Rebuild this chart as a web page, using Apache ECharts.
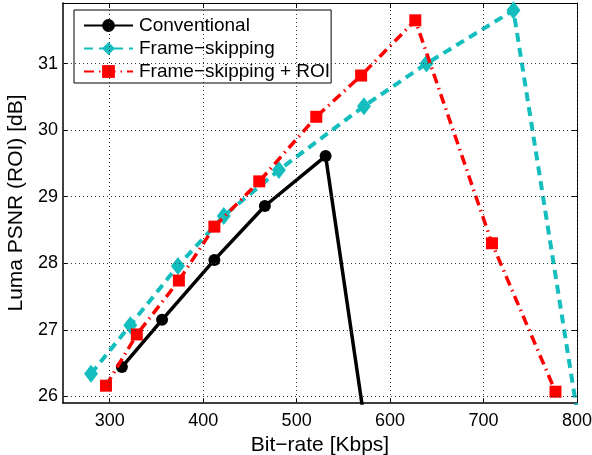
<!DOCTYPE html>
<html>
<head>
<meta charset="utf-8">
<script src="https://cdn.jsdelivr.net/npm/echarts@6/dist/echarts.min.js"></script>
<style>html,body{margin:0;padding:0;background:#fff}#c{width:592px;height:455px}</style>
</head>
<body>
<div id="c"></div>
<script>
var seriesNames = ['Conventional', 'Frame\u2212skipping', 'Frame\u2212skipping + ROI'];
var convX = [313, 356, 412, 466, 531, 576];
var convY = [26.44, 27.15, 28.05, 28.86, 29.61, 25.3];
var fsX = [280, 322, 373, 422, 481, 572, 639, 732, 806];
var fsY = [26.34, 27.07, 27.96, 28.71, 29.40, 30.36, 31.00, 31.80, 25.25];
var roiX = [296, 329, 374, 412, 460, 521, 569, 627, 709, 777];
var roiY = [26.16, 26.93, 27.74, 28.55, 29.23, 30.20, 30.82, 31.65, 28.30, 26.07];
var xTicks = [300, 400, 500, 600, 700, 800];
var yTicks = [26, 27, 28, 29, 30, 31];

function pairs(xs, ys) { return xs.map(function (x, i) { return [x, ys[i]]; }); }

var font = 'Liberation Sans, Arial, Helvetica, sans-serif';
var chart = echarts.init(document.getElementById('c'));
chart.setOption({
  animation: false,
  backgroundColor: '#fff',
  grid: { left: 63, right: 15, top: 3, bottom: 52, containLabel: false, outerBoundsMode: 'none' },
  legend: {
    left: 74, top: 10, orient: 'vertical',
    backgroundColor: '#fff', borderColor: '#000', borderWidth: 1,
    padding: [5, 1, 1, 9], itemGap: 2, itemWidth: 49, itemHeight: 16,
    textStyle: { fontFamily: font, fontSize: 19, lineHeight: 21, color: '#000', padding: [0, 0, 0, 1] },
    data: seriesNames
  },
  xAxis: [{
    type: 'value', min: 250, max: 800, interval: 50,
    name: 'Bit\u2212rate [Kbps]', nameLocation: 'middle', nameGap: 25,
    nameTextStyle: { fontFamily: font, fontSize: 21, color: '#000' },
    axisLine: { show: true, onZero: false, lineStyle: { color: '#000', width: 1.5 } },
    axisTick: { show: true, inside: true, length: 5, lineStyle: { color: '#000' },
      customValues: xTicks },
    axisLabel: { fontFamily: font, fontSize: 18, color: '#000', margin: 9,
      customValues: xTicks },
    splitLine: { show: false }
  }, {
    type: 'value', min: 250, max: 800, position: 'top',
    axisLine: { show: true, onZero: false, lineStyle: { color: '#000', width: 1 } },
    axisTick: { show: true, inside: true, length: 5, lineStyle: { color: '#000' }, customValues: xTicks },
    axisLabel: { show: false }, splitLine: { show: false }
  }],
  yAxis: [{
    type: 'value', min: 25.9, max: 31.91,
    name: 'Luma PSNR (ROI) [dB]', nameLocation: 'middle', nameGap: 35,
    nameTextStyle: { fontFamily: font, fontSize: 21, color: '#000' },
    axisLine: { show: true, onZero: false, lineStyle: { color: '#000', width: 1.5 } },
    axisTick: { show: true, inside: true, length: 5, lineStyle: { color: '#000' }, customValues: yTicks },
    axisLabel: { fontFamily: font, fontSize: 18, color: '#000', margin: 5, customValues: yTicks },
    splitLine: { show: false }
  }, {
    type: 'value', min: 25.9, max: 31.91, position: 'right',
    axisLine: { show: true, onZero: false, lineStyle: { color: '#000', width: 1 } },
    axisTick: { show: true, inside: true, length: 5, lineStyle: { color: '#000' }, customValues: yTicks },
    axisLabel: { show: false }, splitLine: { show: false }
  }],
  series: [
    { type: 'line', name: 'gridx', silent: true, xAxisIndex: 0, yAxisIndex: 0, data: [],
      markLine: { silent: true, symbol: 'none', label: { show: false },
        lineStyle: { type: [1, 3], color: '#333', width: 1 },
        data: xTicks.map(function (v) { return { xAxis: v }; }).concat(yTicks.map(function (v) { return { yAxis: v }; })) } },
    {
      name: seriesNames[0], type: 'line', data: pairs(convX, convY), clip: true,
      symbol: 'circle', symbolSize: 12, z: 3,
      lineStyle: { color: '#000', width: 3.5 }, itemStyle: { color: '#000' }
    },
    {
      name: seriesNames[1], type: 'line', data: pairs(fsX, fsY), clip: true,
      symbol: 'diamond', symbolSize: [14, 18], z: 2,
      lineStyle: { color: '#14BEBE', width: 4, type: [9, 6] }, itemStyle: { color: '#14BEBE' }
    },
    {
      name: seriesNames[2], type: 'line', data: pairs(roiX, roiY), clip: true,
      symbol: 'rect', symbolSize: 12, z: 4,
      lineStyle: { color: '#FF0000', width: 3.5, type: [10, 5, 1.5, 5] }, itemStyle: { color: '#FF0000' }
    }
  ]
});
</script>
</body>
</html>
